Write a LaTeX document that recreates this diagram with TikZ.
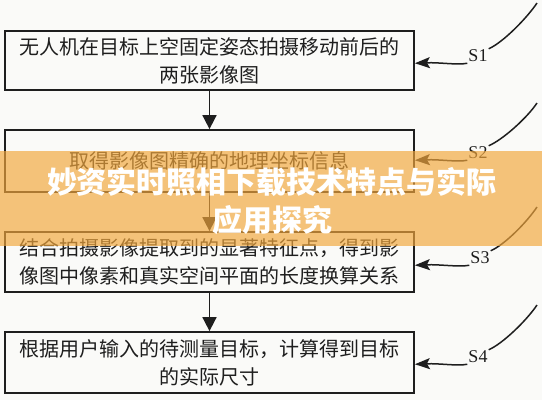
\documentclass[tikz,border=0pt]{standalone}
\usepackage{fontspec}
\setmainfont{Liberation Serif}
\newfontfamily\cjk{Noto Sans CJK SC}
\usetikzlibrary{arrows.meta}
\definecolor{ink}{RGB}{30,30,30}
\definecolor{bg}{RGB}{250,250,248}
\definecolor{band}{RGB}{242,167,60}
\begin{document}
\begin{tikzpicture}[x=1pt,y=-1pt,
  box/.style={draw=ink, line width=1.8pt, minimum width=409pt, inner sep=0pt,
    align=center, text=ink, font=\cjk\fontsize{20}{28}\selectfont},
  flow/.style={draw=ink, line width=1.8pt, -{Triangle[length=14pt,width=14pt]}},
  lead/.style={draw=ink, line width=1.5pt},
  leadarrow/.style={lead, -{Stealth[length=15pt,width=11pt,inset=3pt]}},
  tag/.style={font=\fontsize{18}{18}\selectfont, inner sep=1pt, text=ink},
  bannertext/.style={text=white, font=\cjk\bfseries\fontsize{30}{30}\selectfont, inner sep=0pt}]
\useasboundingbox[fill=bg] (0,0) rectangle (542,400);

\node[box, minimum height=59pt] (b1) at (209.5,60.5) {无人机在目标上空固定姿态拍摄移动前后的\\两张影像图};
\node[box, minimum height=62pt] (b2) at (209.5,161) {取得影像图精确的地理坐标信息};
\node[box, minimum height=60pt] (b3) at (209.5,262) {结合拍摄影像提取到的显著特征点，得到影\\像图中像素和真实空间平面的长度换算关系};
\node[box, minimum height=61pt] (b4) at (209.5,362.5) {根据用户输入的待测量目标，计算得到目标\\的实际尺寸};

\draw[flow] (b1) -- (b2);
\draw[flow] (b2) -- (b3);
\draw[flow] (b3) -- (b4);

\node[tag] (s1) at (478,56) {S1};
\node[tag] (s2) at (478,153) {S2};
\node[tag] (s3) at (480,258) {S3};
\node[tag] (s4) at (478,357) {S4};

\coordinate (e1) at (537,3);
\coordinate (e2) at (537,103);
\coordinate (e3) at (537,207);
\coordinate (e4) at (537,305);

\foreach \i in {1,2,3,4}{
  \draw[leadarrow] (s\i.south west) .. controls +(-10,2) and +(25,-1) .. (b\i.east |- s\i.south);
  \draw[lead] (s\i.north east) .. controls +(14,-6) and +(-10,15) .. (e\i);
}

\fill[band, fill opacity=0.67] (0,151) rectangle (542,246);
\node[bannertext] (t1) at (272,182) {妙资实时照相下载技术特点与实际};
\node[bannertext] (t2) at (272,220) {应用探究};
\end{tikzpicture}
\end{document}
